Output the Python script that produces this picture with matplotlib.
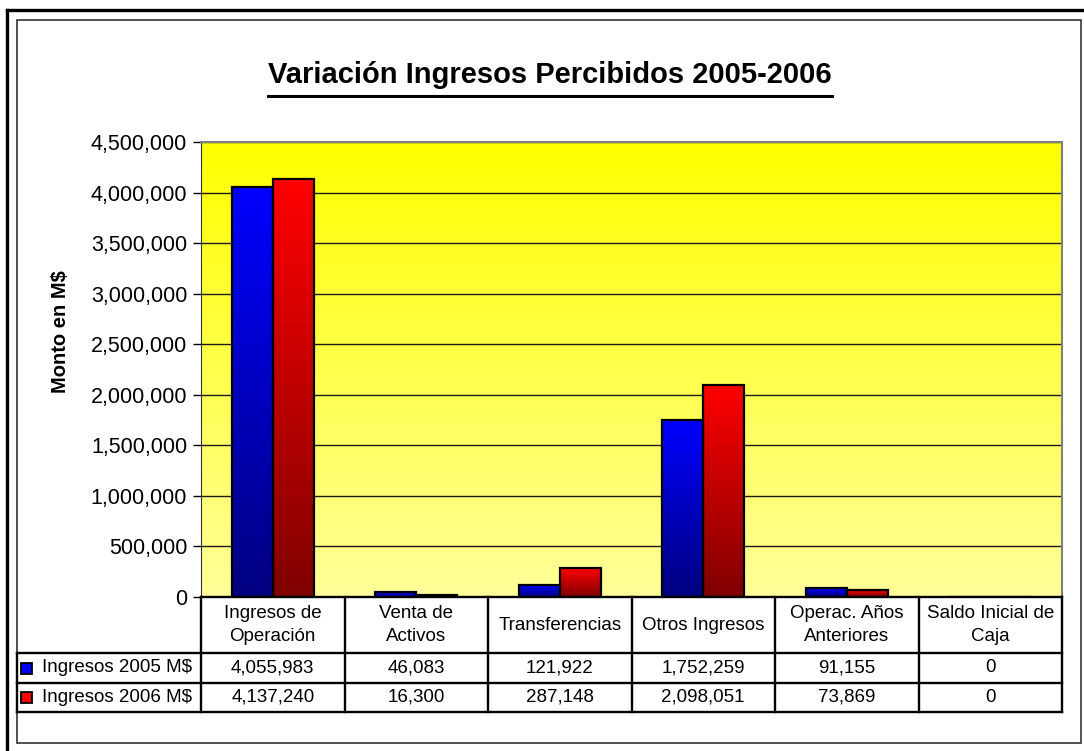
import numpy as np
import matplotlib
matplotlib.use('Agg')
import matplotlib.pyplot as plt
from matplotlib.lines import Line2D
from matplotlib.patches import Rectangle

# datos del grafico
categories = ['Ingresos de\nOperación', 'Venta de\nActivos', 'Transferencias',
              'Otros Ingresos', 'Operac. Años\nAnteriores', 'Saldo Inicial de\nCaja']
series_names = ['Ingresos 2005 M$', 'Ingresos 2006 M$']
ingresos_2005 = [4055983, 46083, 121922, 1752259, 91155, 0]
ingresos_2006 = [4137240, 16300, 287148, 2098051, 73869, 0]
yticks = np.arange(0, 4500001, 500000)
title = 'Variación Ingresos Percibidos 2005-2006'
ylabel = 'Monto en M$'

plt.rcParams['font.family'] = ['Liberation Sans', 'DejaVu Sans']

W, H = 1084, 751
fig = plt.figure(figsize=(W / 100, H / 100), dpi=100)


def fx(px):
    return px / W


def fy(py):
    return 1 - py / H


ax = fig.add_axes([fx(201), fy(597), fx(1062) - fx(201), fy(142) - fy(597)])

# fondo amarillo degradado
bg = np.linspace([1, 1, 0], [1, 1, 0.6], 256)[:, None, :]
ax.imshow(bg, extent=[0, 1, 0, 1], transform=ax.transAxes, aspect='auto',
          origin='upper', zorder=0, interpolation='bilinear')

# barras con degradado
x = np.arange(len(categories))
w = 1 / 3.5
top_cols = [(0, 0, 1), (1, 0, 0)]
bot_cols = [(0, 0, 0.5), (0.5, 0, 0)]
for k, vals in enumerate([ingresos_2005, ingresos_2006]):
    bars = ax.bar(x + (k - 0.5) * w, vals, w, facecolor='none',
                  edgecolor='black', linewidth=1.6, zorder=3)
    for b in bars:
        if b.get_height() <= 0:
            continue
        grad = np.linspace(top_cols[k], bot_cols[k], 128)[:, None, :]
        ax.imshow(grad, extent=[b.get_x(), b.get_x() + b.get_width(), 0, b.get_height()],
                  aspect='auto', origin='upper', zorder=2, interpolation='bilinear')

ax.set_xlim(-0.5, len(categories) - 0.5)
ax.set_ylim(0, yticks[-1])
ax.set_yticks(yticks)
ax.set_yticklabels(['{:,}'.format(v) for v in yticks])
ax.set_xticks([])
ax.yaxis.grid(True, color='#1a1a1a', lw=1)
ax.set_axisbelow(True)
ax.tick_params(axis='y', length=6, width=1, direction='out', labelsize=15.5, pad=4)
ax.spines['left'].set_color('#333333')
ax.spines['bottom'].set_visible(False)
for s in ['top', 'right']:
    ax.spines[s].set_color('#808080')
    ax.spines[s].set_linewidth(1.5)

# titulo subrayado
t = fig.text(fx(550), fy(83), title, ha='center', va='baseline',
             fontsize=21, fontweight='bold')
fig.text(fx(60), fy(332), ylabel, rotation=90, ha='center', va='center',
         fontsize=14.5, fontweight='bold')
fig.canvas.draw()
bb = t.get_window_extent()
fig.add_artist(Line2D([bb.x0 / W, bb.x1 / W], [fy(96), fy(96)], color='black', lw=2.2))

# tabla de datos
edges = np.arange(len(categories) + 1) - 0.5
edges_px = ax.transData.transform(np.column_stack([edges, np.zeros_like(edges)]))[:, 0]
rows_y = [597, 653, 683, 712]
lw = 1.7
for e in edges_px:
    fig.add_artist(Line2D([fx(e), fx(e)], [fy(rows_y[0]), fy(rows_y[-1])], color='black', lw=lw))
fig.add_artist(Line2D([fx(edges_px[0]), fx(edges_px[-1])], [fy(rows_y[0]), fy(rows_y[0])],
                      color='black', lw=lw))
for ry in rows_y[1:]:
    fig.add_artist(Line2D([fx(17), fx(edges_px[-1])], [fy(ry), fy(ry)], color='black', lw=lw))
fig.add_artist(Line2D([fx(17), fx(17)], [fy(rows_y[1]), fy(rows_y[-1])], color='black', lw=lw))

for i, cat in enumerate(categories):
    cx = (edges_px[i] + edges_px[i + 1]) / 2
    fig.text(fx(cx), fy((rows_y[0] + rows_y[1]) / 2), cat, ha='center', va='center',
             fontsize=13.5, linespacing=1.45)
    for r, vals in enumerate([ingresos_2005, ingresos_2006]):
        cy = (rows_y[r + 1] + rows_y[r + 2]) / 2
        fig.text(fx(cx), fy(cy), '{:,}'.format(vals[i]), ha='center', va='center',
                 fontsize=13.5)

for r, name in enumerate(series_names):
    cy = (rows_y[r + 1] + rows_y[r + 2]) / 2
    fig.add_artist(Rectangle((fx(21), fy(cy + 5.5)), 11 / W, 11 / H,
                             facecolor=top_cols[r], edgecolor='black', lw=1.3))
    fig.text(fx(42), fy(cy), name, ha='left', va='center', fontsize=13.5)

# marcos
fig.add_artist(Rectangle((fx(17), fy(743)), (1081 - 17) / W, (743 - 20) / H,
                         facecolor='none', edgecolor='#333333', lw=1.2))
fig.add_artist(Line2D([fx(7), fx(7)], [fy(10), 0], color='black', lw=2.4))
fig.add_artist(Line2D([fx(7), 1], [fy(10), fy(10)], color='black', lw=2.4))

fig.savefig('out.png', dpi=100)
